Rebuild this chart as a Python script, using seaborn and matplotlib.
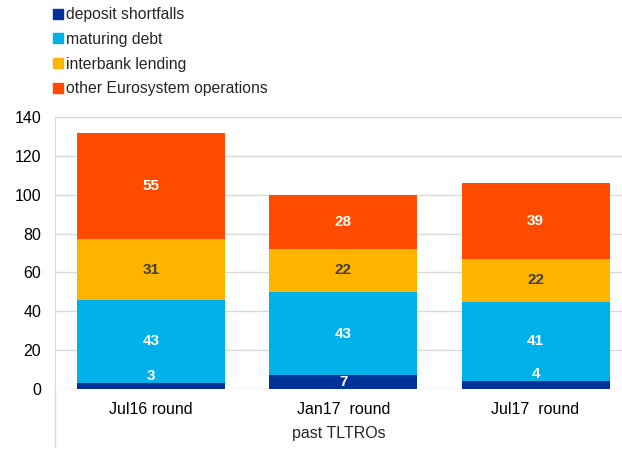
import seaborn as sns
import matplotlib.pyplot as plt
import pandas as pd
from matplotlib.patches import Patch

rondas = ["Jul16 round", "Jan17  round", "Jul17  round"]
series = ["deposit shortfalls", "maturing debt", "interbank lending", "other Eurosystem operations"]
deposit = [3, 7, 4]
maturing = [43, 43, 41]
interbank = [31, 22, 22]
other = [55, 28, 39]
cores = ["#003299", "#00b1ea", "#ffb400", "#ff4b00"]
cores_txt = ["white", "white", "#404040", "white"]

sns.set_style("white")
plt.rcParams['font.family'] = ['Liberation Sans', 'DejaVu Sans']

valores = [deposit, maturing, interbank, other]
df = pd.DataFrame({"ronda": rondas})
acum = [0, 0, 0]
bases = []
for nome, v in zip(series, valores):
    bases.append(list(acum))
    acum = [a + b for a, b in zip(acum, v)]
    df[nome] = acum

fig = plt.figure(figsize=(6.22, 4.54), dpi=100)
ax = fig.add_axes([55 / 622, 65 / 454, 567 / 622, 272 / 454])

# desenhar de cima para baixo para empilhar
for nome, cor in reversed(list(zip(series, cores))):
    sns.barplot(data=df, x="ronda", y=nome, color=cor, width=0.77,
                saturation=1, edgecolor="none", ax=ax, zorder=3)

for v, base, ct in zip(valores, bases, cores_txt):
    for i in range(3):
        y = base[i] + v[i] / 2
        if v[i] < 5:
            # etiquetas pequenas ficam por cima do segmento
            y = base[i] + v[i] + 3.5
        ax.text(i, y, str(v[i]), ha="center", va="center",
                color=ct, fontsize=11, fontweight="bold", zorder=5)

ax.set_ylim(0, 140)
ax.set_xlim(-0.5, 2.45)
ax.set_yticks(range(0, 141, 20))
ax.yaxis.grid(True, color="#d9d9d9", lw=1)
ax.set_axisbelow(True)
for s in ["top", "right", "bottom"]:
    ax.spines[s].set_visible(False)
ax.spines["left"].set_color("#d9d9d9")
ax.plot([0, 0], [0, -0.215], transform=ax.transAxes, color="#d9d9d9", lw=1, clip_on=False)
ax.tick_params(axis="both", length=0, labelsize=11.5, colors="black")
ax.tick_params(axis="x", pad=9)
ax.tick_params(axis="y", pad=10)
ax.set_ylabel("")
ax.set_xlabel("past TLTROs", fontsize=11.5, labelpad=7)

handles = [Patch(color=c, label=n) for n, c in zip(series, cores)]
fig.legend(handles=handles, loc="upper left", bbox_to_anchor=(44 / 622, 1.005),
           frameon=False, fontsize=11.3, handlelength=0.6, handleheight=0.6,
           handletextpad=0.2, labelspacing=0.62, borderaxespad=0.2)

fig.savefig("out.png", dpi=100)
